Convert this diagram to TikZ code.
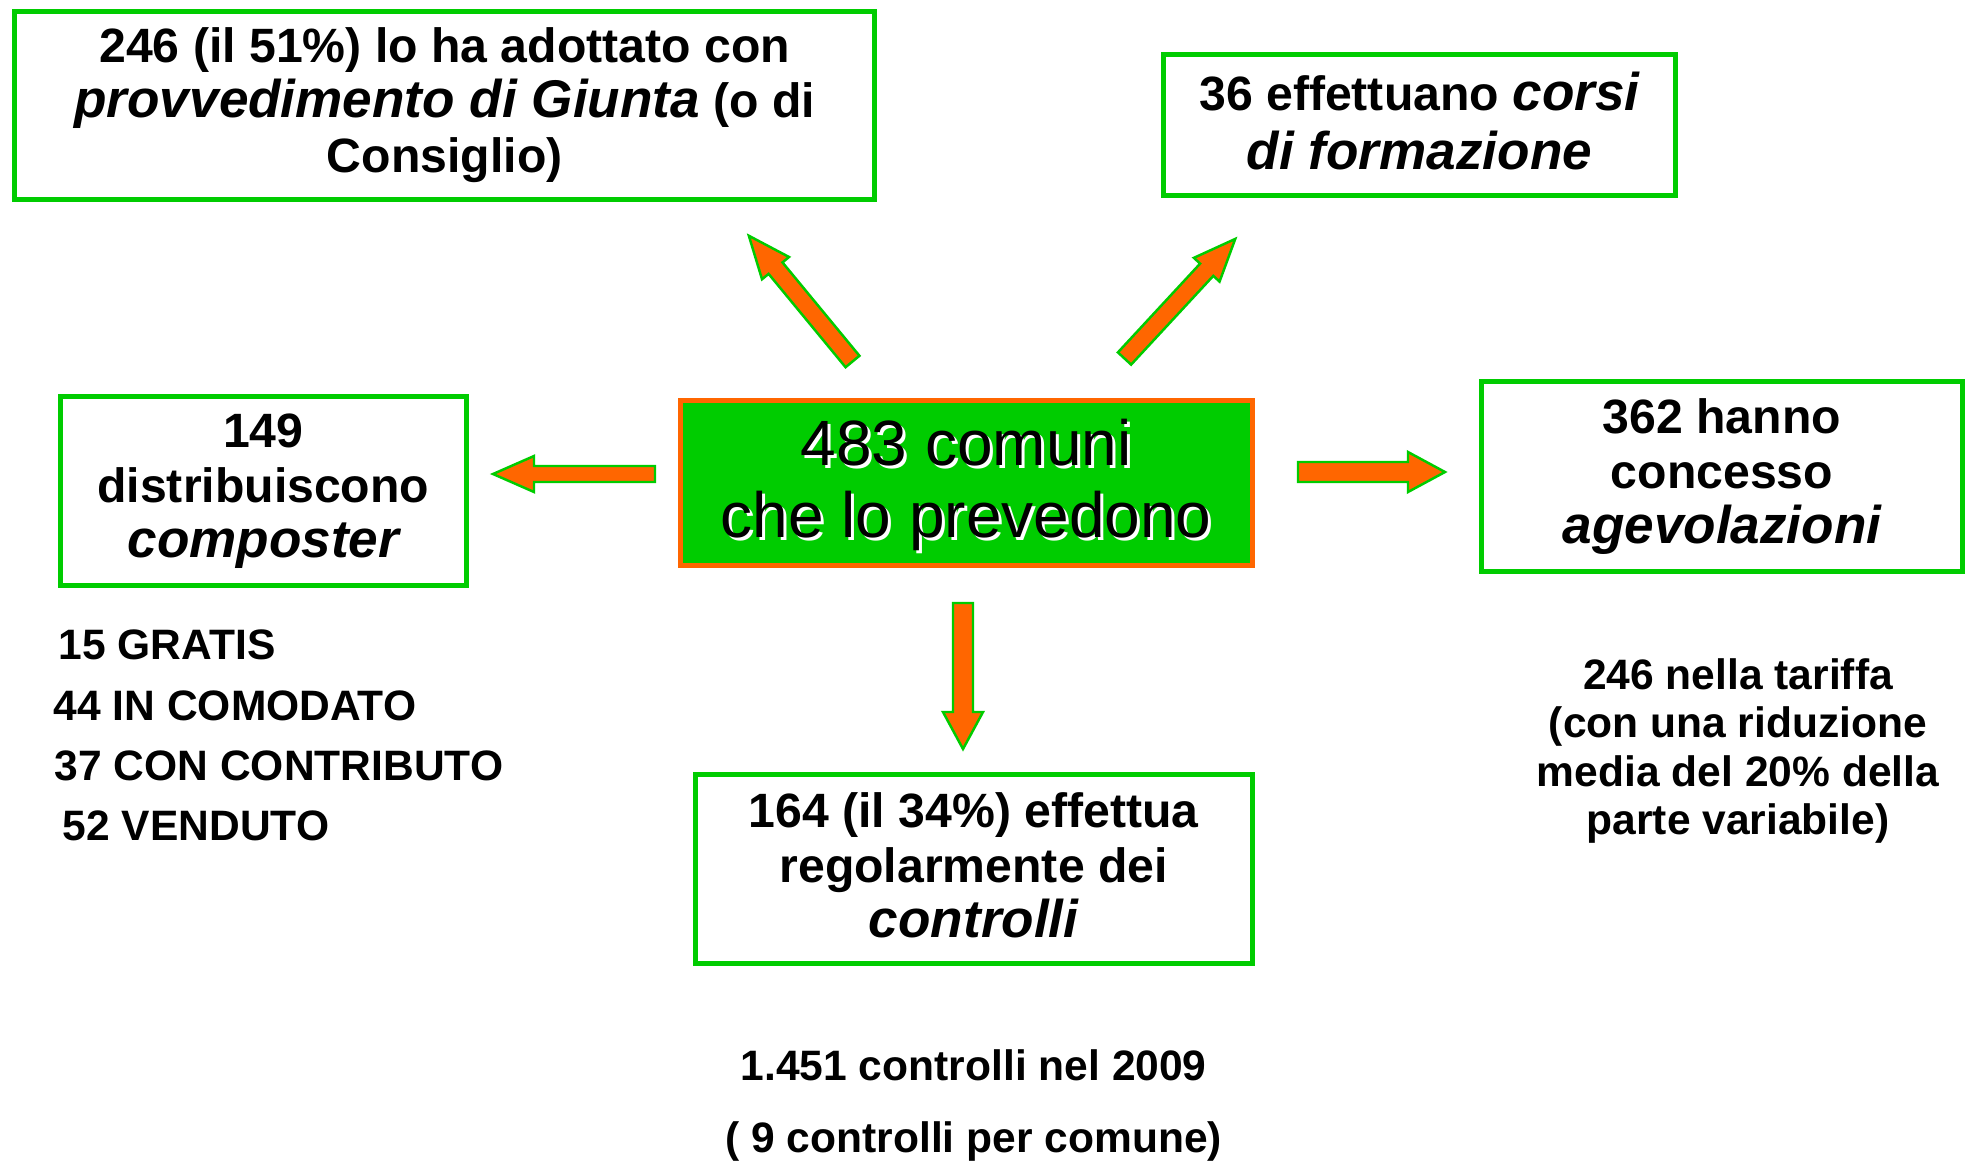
\documentclass[tikz,border=0pt]{standalone}
\usepackage{fontspec}
\setmainfont{Liberation Sans}

\definecolor{boxgreen}{RGB}{0,204,0}
\definecolor{arroworange}{RGB}{255,102,0}

\newcommand\bigit[1]{{\fontsize{15.1}{15.7}\selectfont\itshape #1}}

\tikzset{
    info box/.style={
        draw=boxgreen,line width=1.42pt,
        fill=white,align=center,inner sep=0pt,
        font=\fontsize{13.7}{15.7}\selectfont\bfseries
    },
    centre box/.style={
        draw=arroworange,line width=1.42pt,fill=boxgreen,
        minimum width=5.72cm,minimum height=1.65cm
    },
    centre text/.style={
        align=center,inner sep=0pt,
        font=\fontsize{18.2}{20.5}\selectfont
    },
    note text/.style={
        align=center,inner sep=0pt,
        font=\fontsize{12.1}{13.66}\selectfont\bfseries
    },
    big arrow/.style={fill=arroworange,draw=boxgreen,line width=.7pt},
    pics/blockarrow/.style args={#1/#2/#3/#4}{code={
        \path[big arrow] (0,-#2/2) -- (#1-#4,-#2/2) -- (#1-#4,-#3/2) -- (#1,0)
            -- (#1-#4,#3/2) -- (#1-#4,#2/2) -- (0,#2/2) -- cycle;
    }}
}

\begin{document}
\begin{tikzpicture}[x=.01cm,y=-.01cm]
        \useasboundingbox (0,0) rectangle (1975,1160);
        % central box
        \node[centre box] (centre) at (966.2,483) {};
        \node[centre text,white] (centreshadow) at ([shift={(3,5)}]centre) {483 comuni\\che lo prevedono};
        \node[centre text] (centrelabel) at ([shift={(0,2)}]centre) {483 comuni\\che lo prevedono};
        % outer boxes
        \node[info box,minimum width=8.59cm,minimum height=1.88cm] (giunta) at (444.7,105.2)
            {246 (il 51\%) lo ha adottato con\\\bigit{provvedimento di Giunta} (o di\\Consiglio)};
        \node[info box,minimum width=5.12cm,minimum height=1.41cm,text depth=.088cm] (corsi) at (1419.4,124.7)
            {36 effettuano \bigit{corsi}\\[1.1pt]\bigit{di formazione}};
        \node[info box,minimum width=4.06cm,minimum height=1.89cm] (composter) at (263.3,491.3)
            {149\\distribuiscono\\\bigit{composter}};
        \node[info box,minimum width=4.81cm,minimum height=1.90cm] (agevolazioni) at (1721.9,476.7)
            {362 hanno\\concesso\\\bigit{agevolazioni}};
        \node[info box,minimum width=5.57cm,minimum height=1.89cm,text depth=.08cm] (controlli) at (973.7,869)
            {164 (il 34\%) effettua\\regolarmente dei\\\bigit{controlli}};
        % arrows
        \pic[rotate=180] (toleft) at (655,474) {blockarrow=162/16/36/41};
        \pic (toright) at (1298,472) {blockarrow=147/20/40/37};
        \pic[rotate=-90] (todown) at (963,603) {blockarrow=146/20/40/37};
        \pic[rotate=129.5] (toupleft) at (852.5,361.5) {blockarrow=163/18/35/42};
        \pic[rotate=47.2] (toupright) at (1124.5,358.5) {blockarrow=163/18/35/42};
        % notes
        \foreach \name/\x/\y/\txt in {gratis/58/645/15 GRATIS,comodato/53/705.4/44 IN COMODATO,
                contributo/54/765.8/37 CON CONTRIBUTO,venduto/62/826.3/52 VENDUTO}
            \node[note text,anchor=west] (\name) at (\x,\y) {\txt};
        \node[note text] (tariffa) at (1738,751)
            {246 nella tariffa\\(con una riduzione\\media del 20\% della\\parte variabile)};
        \node[note text] (numcontrolli) at (973.7,1065.6) {1.451 controlli nel 2009};
        \node[note text] (percomune) at (973.7,1141.5) {( 9 controlli per comune)};
    \end{tikzpicture}
\end{document}
